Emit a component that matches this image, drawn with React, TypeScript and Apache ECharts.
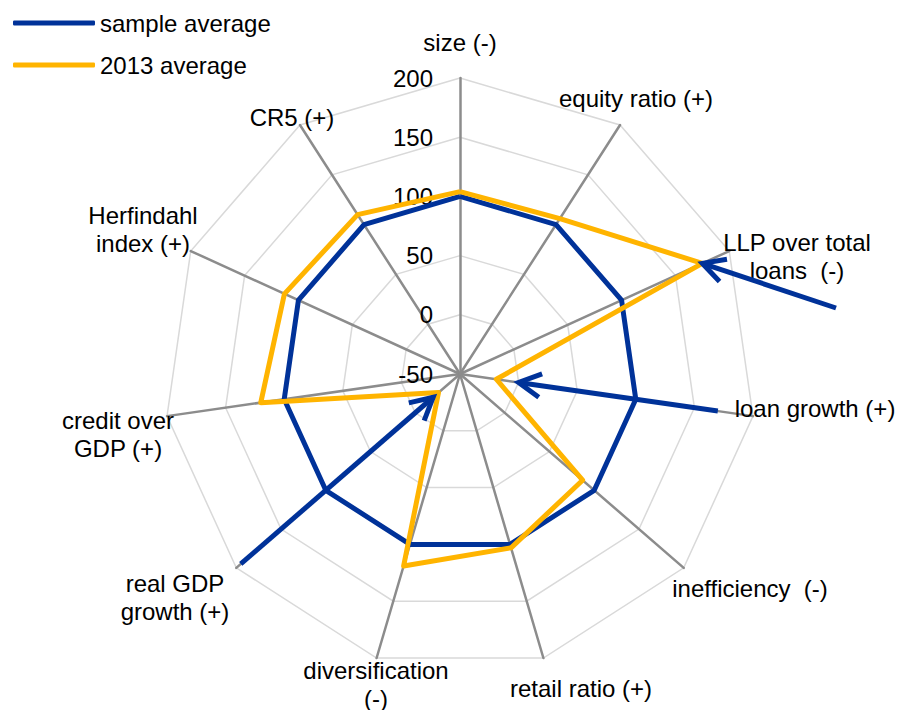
import React, { useEffect, useRef } from "react";
import * as echarts from "echarts";

// Indicators in clockwise order, starting at the top.
const categories = [
  "size (-)",
  "equity ratio (+)",
  "LLP over total\nloans  (-)",
  "loan growth (+)",
  "inefficiency  (-)",
  "retail ratio (+)",
  "diversification\n(-)",
  "real GDP\ngrowth (+)",
  "credit over\nGDP (+)",
  "Herfindahl\nindex (+)",
  "CR5 (+)",
];
const seriesNames = ["sample average", "2013 average"];
const sampleAverage = [100, 100, 100, 100, 100, 100, 100, 100, 100, 100, 100];
const average2013 = [104, 106, 175, -19, 87, 103, 119, -26, 120, 113, 110];
const axisMin = -50;
const axisMax = 200;
const axisSplits = 5;

const BLUE = "#003299";
const ORANGE = "#FFB400";
const FONT = '"Liberation Sans", Arial, sans-serif';

const CX = 460;
const CY = 374;
const R = 296;

// ECharts lays radar indicators out counter-clockwise; keep the first one at the top.
const toRadarOrder = <T,>(arr: T[]): T[] => [arr[0], ...arr.slice(1).reverse()];

// Pixel position of a value on a given indicator (clockwise index).
function radarPoint(idx: number, value: number): [number, number] {
  const theta = (idx * 2 * Math.PI) / categories.length;
  const r = (R * (value - axisMin)) / (axisMax - axisMin);
  return [CX + r * Math.sin(theta), CY - r * Math.cos(theta)];
}

function arrow(tail: [number, number], tip: [number, number]) {
  const dx = tail[0] - tip[0];
  const dy = tail[1] - tip[1];
  const len = Math.hypot(dx, dy);
  const ux = dx / len;
  const uy = dy / len;
  const head = 25;
  const spread = (28 * Math.PI) / 180;
  const rot = (a: number): [number, number] => [
    ux * Math.cos(a) - uy * Math.sin(a),
    ux * Math.sin(a) + uy * Math.cos(a),
  ];
  const [ax, ay] = rot(spread);
  const [bx, by] = rot(-spread);
  return [
    {
      type: "line",
      z: 100,
      shape: { x1: tail[0], y1: tail[1], x2: tip[0], y2: tip[1] },
      style: { stroke: BLUE, lineWidth: 5 },
    },
    {
      type: "polyline",
      z: 100,
      shape: {
        points: [
          [tip[0] + ax * head, tip[1] + ay * head],
          [tip[0], tip[1]],
          [tip[0] + bx * head, tip[1] + by * head],
        ],
      },
      style: { stroke: BLUE, lineWidth: 5, fill: null, lineJoin: "miter" },
    },
  ];
}

// Indicator name placement: [centre x, centre y]
const namePositions: [number, number][] = [
  [460, 42],
  [636, 98],
  [797, 256],
  [815, 408],
  [750, 588],
  [581, 688],
  [376, 684],
  [175, 597],
  [118, 434],
  [143, 229],
  [292, 117],
];

export default function App() {
  const ref = useRef<HTMLDivElement>(null);

  useEffect(() => {
    document.body.style.margin = "0";
    if (!ref.current) return;
    const chart = echarts.init(ref.current, null, { renderer: "svg" });

    const indicators = toRadarOrder(categories).map((name, i) => {
      const ind: any = { name, min: axisMin, max: axisMax };
      if (i === 0) {
        ind.axisLabel = {
          show: true,
          fontSize: 24,
          color: "#000",
          fontFamily: FONT,
          margin: 27,
        };
      }
      return ind;
    });

    const nameTexts = categories.map((name, i) => ({
      type: "text",
      z: 50,
      x: namePositions[i][0],
      y: namePositions[i][1],
      style: {
        text: name,
        fill: "#000",
        font: `24px ${FONT}`,
        align: "center",
        verticalAlign: "middle",
        lineHeight: 28,
      },
    }));

    const arrows = [
      ...arrow([836, 308], radarPoint(2, average2013[2])),
      ...arrow(radarPoint(3, 170), radarPoint(3, 0)),
      ...arrow(radarPoint(7, 195), radarPoint(7, -20)),
    ];

    chart.setOption({
      animation: false,
      backgroundColor: "#fff",
      legend: {
        data: seriesNames,
        orient: "vertical",
        left: 13,
        top: 11,
        padding: 0,
        itemWidth: 82,
        itemHeight: 5,
        itemGap: 18,
        icon: "roundRect",
        textStyle: { fontSize: 24, color: "#000", fontFamily: FONT },
      },
      radar: {
        center: [CX, CY],
        radius: R,
        startAngle: 90,
        shape: "polygon",
        splitNumber: axisSplits,
        indicator: indicators,
        axisName: { show: false },
        axisLabel: { show: false },
        axisTick: { show: false },
        axisLine: { lineStyle: { color: "#8c8c8c", width: 2.5 } },
        splitLine: { lineStyle: { color: "#d9d9d9", width: 1.5 } },
        splitArea: { show: false },
      },
      series: [
        {
          type: "radar",
          symbol: "none",
          data: [
            {
              name: seriesNames[0],
              value: toRadarOrder(sampleAverage),
              lineStyle: { color: BLUE, width: 5 },
              itemStyle: { color: BLUE },
            },
            {
              name: seriesNames[1],
              value: toRadarOrder(average2013),
              lineStyle: { color: ORANGE, width: 5 },
              itemStyle: { color: ORANGE },
            },
          ],
        },
      ],
      graphic: [...nameTexts, ...arrows],
    });

    return () => chart.dispose();
  }, []);

  return <div ref={ref} style={{ width: 898, height: 710 }} />;
}
